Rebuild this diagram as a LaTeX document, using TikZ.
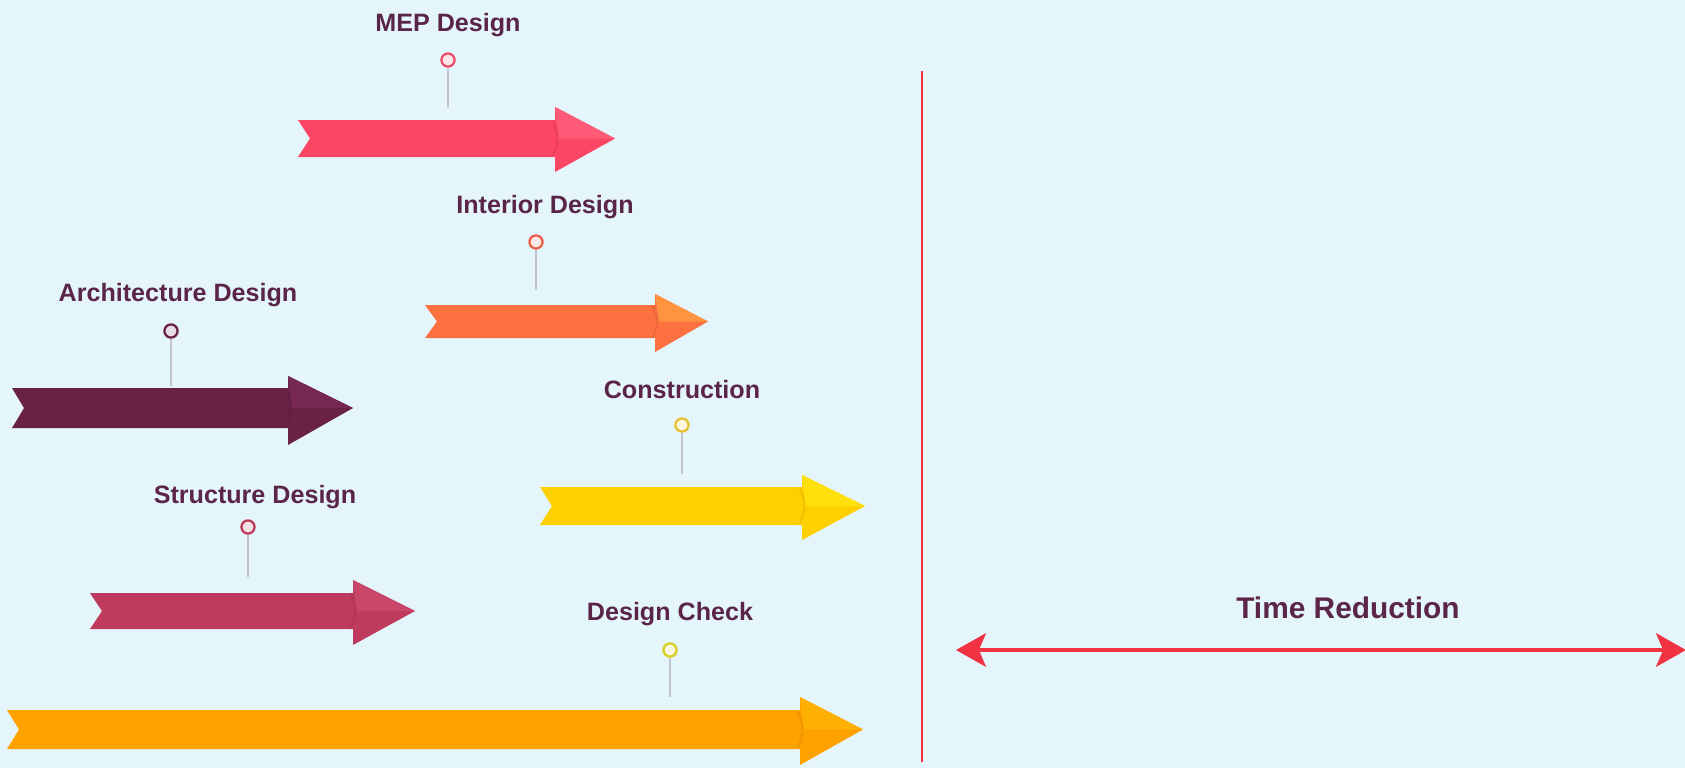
\documentclass[tikz,border=0pt]{standalone}
\usepackage{fontspec}
\setmainfont{Liberation Sans}
\usetikzlibrary{arrows.meta}
\definecolor{bgc}{HTML}{E4F5FC}
\definecolor{txt}{HTML}{5B2645}
\definecolor{pinline}{HTML}{C4C4CC}
\definecolor{mepc}{HTML}{FB4664}
\definecolor{mepl}{HTML}{FF5A78}
\definecolor{intc}{HTML}{FD7040}
\definecolor{intl}{HTML}{FF9440}
\definecolor{arcc}{HTML}{6A2146}
\definecolor{arcl}{HTML}{762850}
\definecolor{conc}{HTML}{FFD000}
\definecolor{conl}{HTML}{FFE00A}
\definecolor{strc}{HTML}{BE3B5E}
\definecolor{strl}{HTML}{C8466A}
\definecolor{dcc}{HTML}{FFA200}
\definecolor{dcl}{HTML}{FFB000}
\definecolor{redc}{HTML}{F03242}
\definecolor{mepp}{HTML}{E8506A}
\definecolor{intp}{HTML}{E86048}
\definecolor{conp}{HTML}{E8C030}
\definecolor{dcp}{HTML}{D8D020}
\tikzset{
  lbl/.style={font=\bfseries\fontsize{14.3}{16}\selectfont, text=txt, inner sep=0pt},
  pin/.style={circle, draw=#1, line width=1.3pt, fill=white!85!#1, minimum size=7.5pt, inner sep=0pt},
  pinstick/.style={draw=pinline, line width=0.7pt},
}
% \tlarrow{x0}{yt}{yb}{xh}{hyt}{hyb}{xtip}{color}{light}
\newcommand{\tlarrow}[9]{%
  \pgfmathsetmacro{\ym}{(#2+#3)/2}%
  \fill[#8] (#1,#2) -- (#4,#2) -- (#4,#5) -- (#7,\ym) -- (#4,#6) -- (#4,#3) -- (#1,#3) -- (#1+12,\ym) -- cycle;
  \fill[#9] (#4,#5) -- (#7,\ym) -- (#4+4,\ym) -- cycle;
  \draw[#8!80!black, line width=1.2pt, opacity=0.3] (#4-2,#2+1) .. controls (#4+4,\ym) .. (#4-2,#3-1);
}
\begin{document}
\begin{tikzpicture}[x=0.02cm,y=-0.02cm]
\fill[bgc] (0,0) rectangle (1685,768);
\useasboundingbox (0,0) rectangle (1685,768);

% arrows
\tlarrow{298}{120}{157}{555}{107}{172}{615}{mepc}{mepl}
\tlarrow{425}{305}{338}{655}{294}{352}{708}{intc}{intl}
\tlarrow{12}{388}{428}{288}{376}{445}{353}{arcc}{arcl}
\tlarrow{540}{487}{525}{802}{475}{540}{865}{conc}{conl}
\tlarrow{90}{593}{629}{353}{580}{645}{415}{strc}{strl}
\tlarrow{7}{710}{749}{800}{697}{765}{863}{dcc}{dcl}

% pins and labels
\node[pin=mepp] (pMEP) at (448,60) {};
\coordinate (eMEP) at (448,108);
\draw[pinstick] (pMEP) -- (eMEP);
\node[lbl] (tMEP) at (448,25) {MEP Design};

\node[pin=intp] (pINT) at (536,242) {};
\coordinate (eINT) at (536,290);
\draw[pinstick] (pINT) -- (eINT);
\node[lbl] (tINT) at (545,207) {Interior Design};

\node[pin=arcc] (pARC) at (171,331) {};
\coordinate (eARC) at (171,386);
\draw[pinstick] (pARC) -- (eARC);
\node[lbl] (tARC) at (178,295) {Architecture Design};

\node[pin=conp] (pCON) at (682,425) {};
\coordinate (eCON) at (682,474);
\draw[pinstick] (pCON) -- (eCON);
\node[lbl] (tCON) at (682,390) {Construction};

\node[pin=strc] (pSTR) at (248,527) {};
\coordinate (eSTR) at (248,577);
\draw[pinstick] (pSTR) -- (eSTR);
\node[lbl] (tSTR) at (255,497) {Structure Design};

\node[pin=dcp] (pDC) at (670,650) {};
\coordinate (eDC) at (670,697);
\draw[pinstick] (pDC) -- (eDC);
\node[lbl] (tDC) at (670,614) {Design Check};

% divider
\coordinate (vTop) at (922,71);
\coordinate (vBot) at (922,762);
\draw[redc, line width=1.3pt] (vTop) -- (vBot);

% time reduction
\coordinate (trL) at (956,650);
\coordinate (trR) at (1686,650);
\draw[redc, line width=2.4pt, {Stealth[length=17pt,width=19pt,inset=4pt]}-{Stealth[length=17pt,width=19pt,inset=4pt]}] (trL) -- (trR);
\node[font=\bfseries\fontsize{17}{20}\selectfont, text=txt, inner sep=0pt] (tTR) at (1348,608) {Time Reduction};
\end{tikzpicture}
\end{document}
